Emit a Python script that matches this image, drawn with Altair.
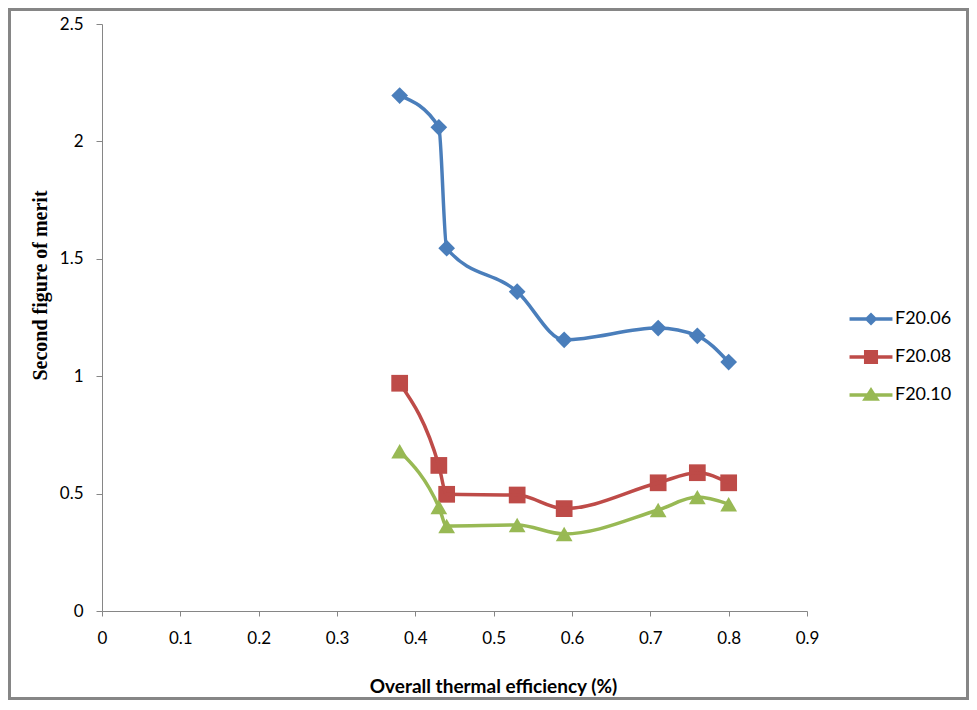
import altair as alt
import pandas as pd

efficiency = [0.38, 0.43, 0.44, 0.53, 0.59, 0.71, 0.76, 0.80]
f2006 = [2.195, 2.06, 1.545, 1.36, 1.155, 1.205, 1.172, 1.06]
f2008 = [0.97, 0.62, 0.497, 0.494, 0.436, 0.546, 0.589, 0.546]
f2010 = [0.68, 0.443, 0.362, 0.366, 0.328, 0.43, 0.485, 0.455]
series_names = ["F20.06", "F20.08", "F20.10"]
series_colors = ["#4A7EBB", "#BE4B48", "#98B954"]
series_shapes = ["diamond", "square", "triangle-up"]
x_ticks = [0, 0.1, 0.2, 0.3, 0.4, 0.5, 0.6, 0.7, 0.8, 0.9]
y_ticks = [0, 0.5, 1, 1.5, 2, 2.5]

rows = []
for name, vals in zip(series_names, [f2006, f2008, f2010]):
    for i, (xv, yv) in enumerate(zip(efficiency, vals)):
        rows.append({"series": name, "x": xv, "y": yv, "order": i})
df = pd.DataFrame(rows)

W, H = 705, 587
PL, PT, PR, PB = 94, 16, 162, 89

leg_diamond = "M-1.13,-0.09H-0.25L0,-0.34L0.25,-0.09H1.13V0.09H0.25L0,0.34L-0.25,0.09H-1.13Z"
leg_square = "M-1.13,-0.09H-0.37V-0.37H0.37V-0.09H1.13V0.09H0.37V0.37H-0.37V0.09H-1.13Z"
leg_tri = "M-1.13,-0.09H-0.21L0,-0.42L0.21,-0.09H1.13V0.09H0.33L0.47,0.3H-0.47L-0.33,0.09H-1.13Z"
sym_expr = (f"datum.value === 'F20.06' ? '{leg_diamond}' : "
            f"(datum.value === 'F20.08' ? '{leg_square}' : '{leg_tri}')")

xs = alt.X("x:Q",
           scale=alt.Scale(domain=[0, 0.9], nice=False, zero=False),
           axis=alt.Axis(values=x_ticks, format="~g", grid=False,
                         title="Overall thermal efficiency (%)",
                         domainColor="#868686", tickColor="#868686", tickSize=5,
                         labelFont="Lato", labelFontSize=17, labelColor="#000000",
                         labelPadding=14, labelFlush=False, labelOverlap=False,
                         titleFont="Lato", titleFontSize=19, titleFontWeight="bold",
                         titleColor="#000000", titleX=391, titleY=81,
                         titleAlign="center", titleBaseline="alphabetic"))
ys = alt.Y("y:Q",
           scale=alt.Scale(domain=[0, 2.5], nice=False, zero=False),
           axis=alt.Axis(values=y_ticks, format="~g", grid=False,
                         title="Second figure of merit",
                         domainColor="#868686", tickColor="#868686", tickSize=6,
                         labelFont="Lato", labelFontSize=17, labelColor="#000000",
                         labelPadding=13, labelFlush=False, labelOverlap=False,
                         titleFont="Liberation Serif", titleFontSize=20,
                         titleFontWeight="bold", titleColor="#000000",
                         titleAngle=270, titleX=-62, titleY=261,
                         titleAlign="center", titleBaseline="middle"))

legend = alt.Legend(title=None, orient="none", legendX=750, legendY=276,
                    symbolType=alt.ExprRef(sym_expr), symbolSize=1444,
                    symbolStrokeWidth=0, symbolOpacity=1,
                    symbolFillColor=None,
                    labelFont="Lato", labelFontSize=18,
                    labelColor="#000000", labelOffset=5,
                    rowPadding=10, padding=0)

color_scale = alt.Scale(domain=series_names, range=series_colors)

lines = alt.Chart(df).mark_line(interpolate="monotone", strokeWidth=3.5).encode(
    x=xs, y=ys,
    color=alt.Color("series:N", scale=color_scale, legend=None),
    detail="series:N",
    order="order:Q",
)

points = alt.Chart(df).mark_point(filled=True, opacity=1, size=280).encode(
    x=xs, y=ys,
    color=alt.Color("series:N", scale=color_scale, legend=legend),
    shape=alt.Shape("series:N", scale=alt.Scale(domain=series_names, range=series_shapes),
                    legend=None),
)

frame = alt.Chart(alt.Data(values=[{"a": 1}])).mark_rect(
    fill=None, stroke="#868686", strokeWidth=3
).encode(
    x=alt.value(-PL + 1.5), x2=alt.value(W + PR - 1.5),
    y=alt.value(-PT + 1.5), y2=alt.value(H + PB - 1.5),
)

chart = alt.layer(frame, points, lines).properties(
    width=W, height=H,
    padding={"left": PL, "top": PT, "right": PR, "bottom": PB},
    autosize=alt.AutoSizeParams(type="none"),
    background="#ffffff",
).resolve_legend(color="independent").configure_view(stroke=None)

chart.save("out.html", embed_options={"renderer": "svg", "actions": False})
